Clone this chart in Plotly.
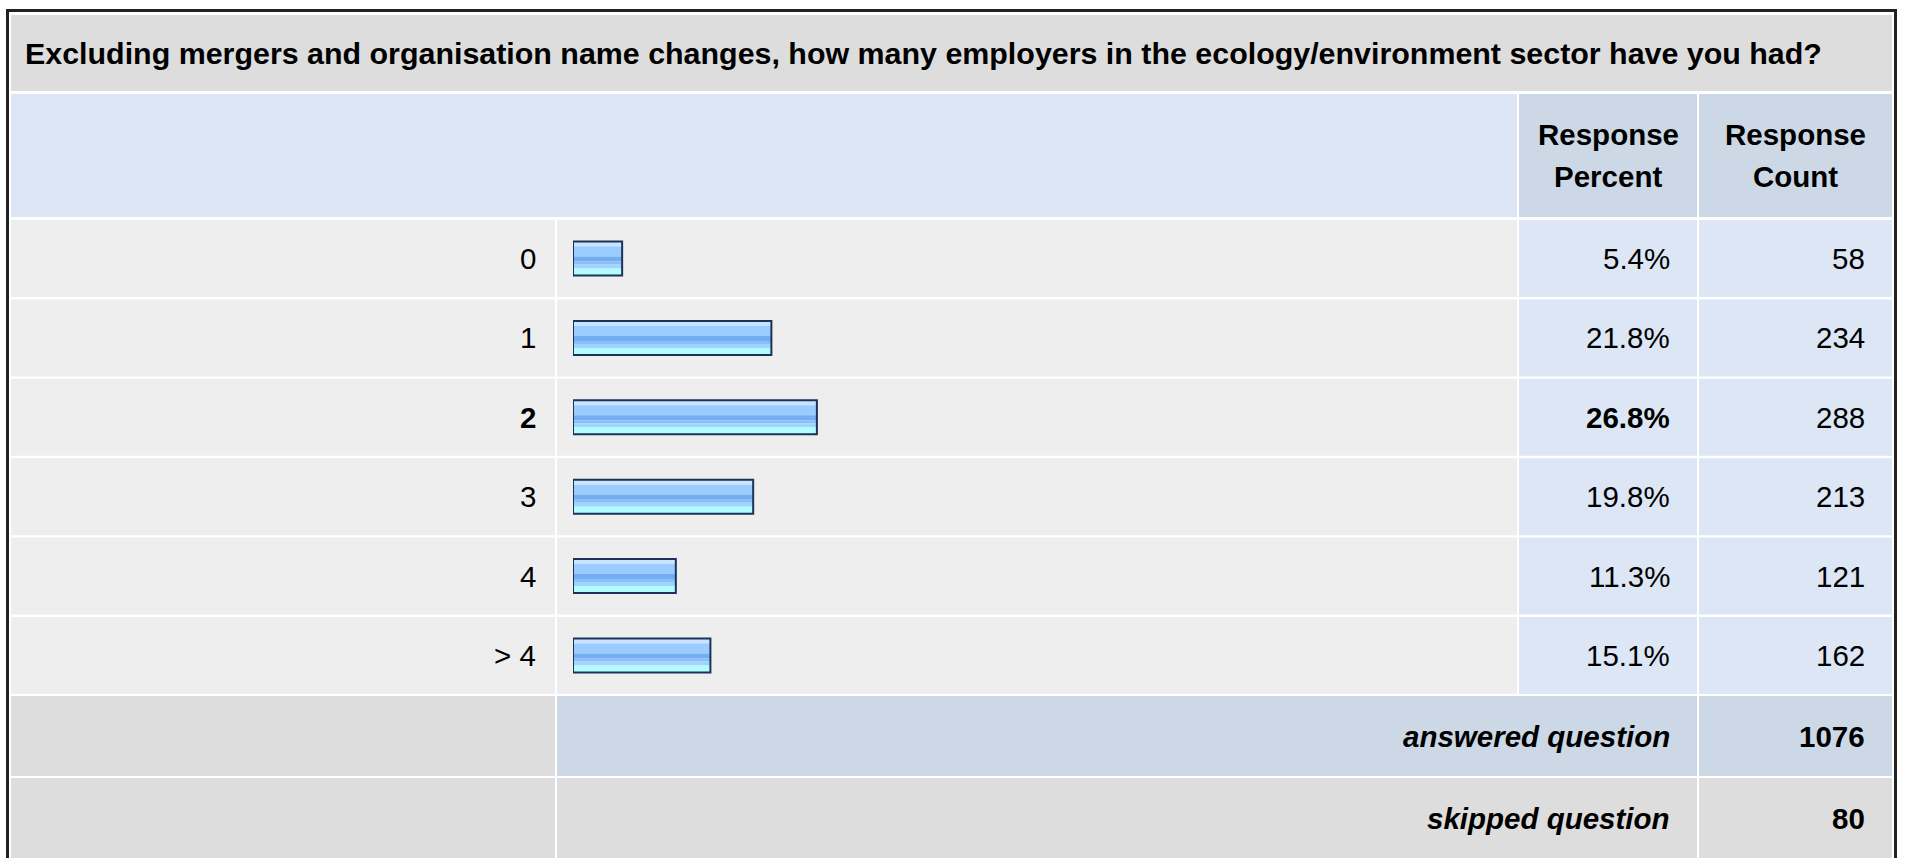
import plotly.graph_objects as go

# ---- survey data -------------------------------------------------------
question = ("Excluding mergers and organisation name changes, how many employers "
            "in the ecology/environment sector have you had?")
answer_options = ["0", "1", "2", "3", "4", "> 4"]
response_percent = [5.4, 21.8, 26.8, 19.8, 11.3, 15.1]
response_count = [58, 234, 288, 213, 121, 162]
answered_question = 1076
skipped_question = 80
column_headers = [("Response", "Percent"), ("Response", "Count")]

# ---- page geometry (pixels) --------------------------------------------
W, H = 1907, 858
FONT = "Arial, 'Liberation Sans', Helvetica, sans-serif"
BODY = 29.5
TITLE = 30.4

COL_LABEL = (11, 555)
COL_BAR = (557, 1517)
COL_PCT = (1519, 1697)
COL_CNT = (1699, 1892)
TITLE_Y = (15, 91)
HEAD_Y = (94, 217)
ROW_TOP = 218.8
PITCH = 79.4
CELL_H = 77
ANS_Y = (696, 776)
SKIP_Y = (778, 870)

BAR_LEFT = 573
PX_PER_PCT = 9.1

C_TITLE = "#DDDDDD"
C_ROW = "#EEEEEE"
C_VAL = "#DCE6F4"
C_HEAD = "#CCD8E6"
C_BORDER = "#1B3358"

# horizontal bands of the bar fill, top to bottom (px, colour)
BAR_BANDS = [(5, "#C8E4FF"), (10, "#9ACCFF"), (5, "#74ADF0"),
             (3, "#88C0FB"), (4, "#A0D4FF"), (7, "#B2FCFF")]
BAR_PX = sum(h for h, _ in BAR_BANDS)


def px(x):
    return x / W


def py(y):
    return 1 - y / H


def rect(x0, x1, y0, y1, color):
    return dict(type="rect", xref="paper", yref="paper", layer="below",
                x0=px(x0), x1=px(x1), y0=py(y1), y1=py(y0),
                fillcolor=color, line=dict(width=0))


def text(s, x, y, anchor, yref="paper", size=BODY):
    return dict(text=s, x=px(x), y=(py(y) if yref == "paper" else y),
                xref="paper", yref=yref, xanchor=anchor, yanchor="middle",
                showarrow=False, font=dict(family=FONT, size=size, color="#000"))


n = len(answer_options)
rows = list(range(n))
mode_idx = max(rows, key=lambda i: response_percent[i])
gap = (PITCH - CELL_H) / 2 / PITCH

shapes = [
    rect(COL_LABEL[0], COL_CNT[1], *TITLE_Y, C_TITLE),
    rect(COL_LABEL[0], COL_BAR[1], *HEAD_Y, C_VAL),
    rect(*COL_PCT, *HEAD_Y, C_HEAD),
    rect(*COL_CNT, *HEAD_Y, C_HEAD),
]
for k in rows:
    for (x0, x1), col in ((COL_LABEL, C_ROW), (COL_BAR, C_ROW),
                          (COL_PCT, C_VAL), (COL_CNT, C_VAL)):
        shapes.append(dict(type="rect", xref="paper", yref="y", layer="below",
                           x0=px(x0), x1=px(x1), y0=k - 0.5 + gap, y1=k + 0.5 - gap,
                           fillcolor=col, line=dict(width=0)))
shapes += [
    rect(*COL_LABEL, *ANS_Y, C_TITLE),
    rect(COL_BAR[0], COL_PCT[1], *ANS_Y, C_HEAD),
    rect(*COL_CNT, *ANS_Y, C_HEAD),
    rect(*COL_LABEL, *SKIP_Y, C_TITLE),
    rect(COL_BAR[0], COL_PCT[1], *SKIP_Y, C_TITLE),
    rect(*COL_CNT, *SKIP_Y, C_TITLE),
    # outer frame
    dict(type="rect", xref="paper", yref="paper", layer="above",
         x0=px(7.5), x1=px(1895.5), y0=py(880), y1=py(10.5),
         fillcolor="rgba(0,0,0,0)", line=dict(color="#222222", width=3)),
]

annotations = [text("<b>" + question + "</b>", 23, sum(TITLE_Y) / 2, "left", size=TITLE)]
for (l1, l2), (x0, x1) in zip(column_headers, (COL_PCT, COL_CNT)):
    cx = (x0 + x1) / 2
    annotations.append(text("<b>%s</b>" % l1, cx, 134, "center"))
    annotations.append(text("<b>%s</b>" % l2, cx, 177, "center"))

for k in rows:
    bold = k == mode_idx
    lab = answer_options[k]
    pct = "%.1f%%" % response_percent[k]
    if bold:
        lab, pct = "<b>%s</b>" % lab, "<b>%s</b>" % pct
    annotations.append(text(lab, COL_LABEL[1] - 17, k, "right", yref="y"))
    annotations.append(text(pct, COL_PCT[1] - 25, k, "right", yref="y"))
    annotations.append(text(str(response_count[k]), COL_CNT[1] - 25, k, "right", yref="y"))

annotations += [
    text("<b><i>answered question</i></b>", COL_PCT[1] - 25, sum(ANS_Y) / 2, "right"),
    text("<b>%d</b>" % answered_question, COL_CNT[1] - 25, sum(ANS_Y) / 2, "right"),
    text("<b><i>skipped question</i></b>", COL_PCT[1] - 25, (SKIP_Y[0] + 858) / 2, "right"),
    text("<b>%d</b>" % skipped_question, COL_CNT[1] - 25, (SKIP_Y[0] + 858) / 2, "right"),
]

# ---- bars: stacked colour bands plus a dark outline --------------------
fig = go.Figure()
unit = 1 / PITCH
offset = -BAR_PX / 2 * unit
for h, color in BAR_BANDS:
    fig.add_trace(go.Bar(x=response_percent, y=rows, orientation="h", base=0,
                         width=h * unit, offset=offset,
                         marker=dict(color=color, line=dict(width=0)),
                         hoverinfo="skip", showlegend=False))
    offset += h * unit
fig.add_trace(go.Bar(x=response_percent, y=rows, orientation="h", base=0,
                     width=BAR_PX * unit, offset=-BAR_PX / 2 * unit,
                     marker=dict(color="rgba(0,0,0,0)",
                                 line=dict(color=C_BORDER, width=2)),
                     hoverinfo="skip", showlegend=False))

x_span = 100 * PX_PER_PCT
fig.update_layout(
    width=W, height=H, autosize=False,
    margin=dict(l=0, r=0, t=0, b=0, pad=0),
    paper_bgcolor="white", plot_bgcolor="rgba(0,0,0,0)",
    barmode="overlay", hovermode=False, showlegend=False,
    xaxis=dict(domain=[px(BAR_LEFT), px(BAR_LEFT + x_span)], range=[0, 100],
               visible=False, fixedrange=True),
    yaxis=dict(domain=[py(ROW_TOP + n * PITCH), py(ROW_TOP)],
               range=[n - 0.5, -0.5], visible=False, fixedrange=True),
    shapes=shapes, annotations=annotations,
)

fig.write_html("out.html", config={"displayModeBar": False})
